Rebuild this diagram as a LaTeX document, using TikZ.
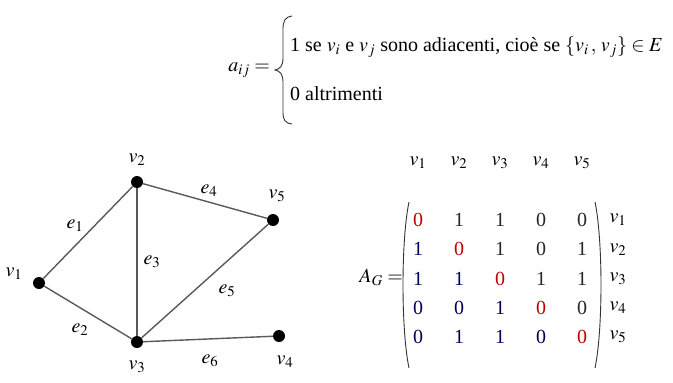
\documentclass[tikz,border=0pt]{standalone}
\usepackage{mathptmx}
\usepackage[no-math]{fontspec}
\setmainfont{Liberation Serif}
\begin{document}
\begin{tikzpicture}[x=1pt,y=-1pt,
  font=\fontsize{20}{24}\selectfont,
  vert/.style={circle,fill=black,inner sep=0pt,minimum size=12pt},
  edge/.style={draw=black!65,line width=1.4pt},
  lbl/.style={inner sep=0pt},
  upent/.style={inner sep=0pt,text=black!85},
  lowent/.style={inner sep=0pt,text=blue!35!black},
  diagent/.style={inner sep=0pt,text=red!75!black},
  delim/.style={line width=0.9pt,draw=black!80}]
\useasboundingbox (0,0) rectangle (673,383);

% formula
\node[lbl,anchor=east] (aij) at (270,70) {$a_{ij} =$};
\draw[delim] (292,16) .. controls (285,17) and (283,21) .. (283,29) -- (283,58)
  .. controls (283,66) and (280,69) .. (275,70)
  .. controls (280,71) and (283,74) .. (283,82) -- (283,112)
  .. controls (283,120) and (285,123) .. (292,124);
\node[lbl,anchor=west] (l1) at (290,47) {1 se $v_i$ e $v_j$ sono adiacenti, cioè se $\{v_i\,,\,v_j\}\in E$};
\node[lbl,anchor=west] (l2) at (290,94) {0 altrimenti};

% graph
\node[vert] (v1) at (39,283) {};
\node[vert] (v2) at (137,182) {};
\node[vert] (v3) at (137,342) {};
\node[vert] (v4) at (279,336) {};
\node[vert] (v5) at (273,220) {};
\draw[edge] (v1) -- (v2);
\draw[edge] (v1) -- (v3);
\draw[edge] (v2) -- (v3);
\draw[edge] (v2) -- (v5);
\draw[edge] (v3) -- (v5);
\draw[edge] (v3) -- (v4);
\node[lbl] (lv1) at (14,274) {$v_1$};
\node[lbl] (lv2) at (137,160) {$v_2$};
\node[lbl] (lv3) at (137,367) {$v_3$};
\node[lbl] (lv4) at (285,362) {$v_4$};
\node[lbl] (lv5) at (277,196) {$v_5$};
\node[lbl] (le1) at (75,226) {$e_1$};
\node[lbl] (le2) at (80,330) {$e_2$};
\node[lbl] (le3) at (152,262) {$e_3$};
\node[lbl] (le4) at (209,191) {$e_4$};
\node[lbl] (le5) at (227,291) {$e_5$};
\node[lbl] (le6) at (210,361) {$e_6$};

% matrix
\node[lbl,anchor=east] (AG) at (403,277) {$A_G =$};
\foreach \c in {1,...,5}{
  \node[lbl] (h\c) at ({418+41*(\c-1)},163) {$v_{\c}$};
  \node[lbl] (r\c) at (618,{220+29.25*(\c-1)}) {$v_{\c}$};
}
\foreach \row [count=\r] in {{0,1,1,0,0},{1,0,1,0,1},{1,1,0,1,1},{0,0,1,0,0},{0,1,1,0,0}}{
  \foreach \val [count=\c] in \row {
    \ifnum\c=\r \def\sty{diagent}\else\ifnum\c<\r \def\sty{lowent}\else\def\sty{upent}\fi\fi
    \node[\sty] (m\r\c) at ({418+41*(\c-1)},{220+29.25*(\r-1)}) {\val};
  }
}
\draw[delim] (409,202) .. controls (401,240) and (401,330) .. (409,368);
\draw[delim] (595,202) .. controls (603,240) and (603,330) .. (595,368);
\end{tikzpicture}
\end{document}
